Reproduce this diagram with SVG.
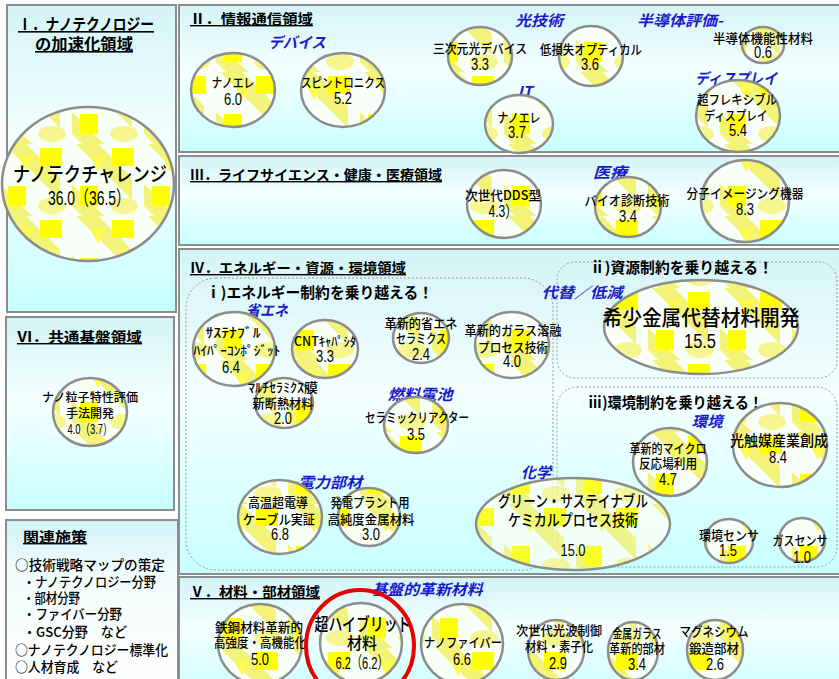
<svg xmlns="http://www.w3.org/2000/svg" width="839" height="679" viewBox="0 0 839 679">
<defs>
<linearGradient id="pg" x1="0" y1="0" x2="0" y2="1">
<stop offset="0" stop-color="#d4f4f6"/>
<stop offset="0.45" stop-color="#f4ffff"/>
<stop offset="1" stop-color="#c8ffff"/>
</linearGradient>
<linearGradient id="pg2" x1="0" y1="0" x2="0" y2="1">
<stop offset="0" stop-color="#cff3f6"/>
<stop offset="0.3" stop-color="#f2fcfc"/>
<stop offset="1" stop-color="#ffffff"/>
</linearGradient>
<pattern id="pat" patternUnits="userSpaceOnUse" width="72" height="72">
<rect width="72" height="72" fill="#f8fff6"/>
<path d="M4 0 L26 0 L60 34 L60 56Z" fill="#f3f37a"/>
<path d="M0 40 L0 62 L10 72 L32 72Z" fill="#f3f37a"/>
<rect x="40" y="4" width="22" height="18" fill="#ffff00"/>
<rect x="8" y="42" width="18" height="20" fill="#ffff00"/>
<ellipse cx="52" cy="62" rx="14" ry="8" fill="#f6f690"/>
<path d="M18 12 L34 12 L26 28Z" fill="#fbfb50"/>
</pattern>
<style>
.panel{fill:url(#pg);stroke:#8c8c8c;stroke-width:2}
.sub{fill:none;stroke:#9a9a9a;stroke-width:1;stroke-dasharray:2 2}
.b{fill:url(#pat);stroke:#8c8c8c;stroke-width:2.5}
text{font-family:"Noto Sans CJK JP","Noto Sans",sans-serif;fill:#000}
.j{font-size:13px;font-weight:500;text-anchor:middle}
.n{font-family:"Liberation Sans Narrow","Liberation Sans",Arial,"Noto Sans CJK JP",sans-serif;font-size:16px;text-anchor:middle}
.lb{font-size:15px;font-weight:bold;font-style:italic;fill:#1a1acc;text-anchor:middle}
.tt{font-size:14px;font-weight:bold;text-decoration:underline}
.st{font-size:15px;font-weight:bold}
.li{font-size:13.5px;font-weight:500}
</style>
</defs>

<g id="panels">
<rect id="panel-1" class="panel" x="7" y="5" width="169" height="307"/>
<rect id="panel-6" class="panel" x="6" y="317" width="168" height="193"/>
<rect id="panel-related" x="6" y="520" width="172" height="170" fill="url(#pg2)" stroke="#8c8c8c" stroke-width="2"/>
<rect id="panel-2" class="panel" x="179" y="5" width="670" height="147"/>
<rect id="panel-3" class="panel" x="179" y="156" width="670" height="89"/>
<rect id="panel-4" class="panel" x="179" y="249" width="670" height="325"/>
<rect id="panel-5" class="panel" x="179" y="577" width="670" height="120"/>
<rect id="box-i" class="sub" x="186" y="278" width="367" height="292" rx="30"/>
<rect id="box-ii" class="sub" x="557" y="262" width="280" height="116" rx="18"/>
<rect id="box-iii" class="sub" x="557" y="387" width="280" height="180" rx="20"/>
</g>

<g id="titles">
<text class="tt" x="86" y="30" style="font-size:16px" text-anchor="middle" textLength="136" lengthAdjust="spacingAndGlyphs">Ⅰ．ナノテクノロジー</text>
<text class="tt" x="84" y="50" style="font-size:16px" text-anchor="middle" textLength="98" lengthAdjust="spacingAndGlyphs">の加速化領域</text>
<text class="tt" x="190" y="24" textLength="123" lengthAdjust="spacingAndGlyphs">Ⅱ．情報通信領域</text>
<text class="tt" x="190" y="180" textLength="252" lengthAdjust="spacingAndGlyphs">Ⅲ．ライフサイエンス・健康・医療領域</text>
<text class="tt" x="190" y="273" textLength="216" lengthAdjust="spacingAndGlyphs">Ⅳ．エネルギー・資源・環境領域</text>
<text class="tt" x="190" y="597" textLength="130" lengthAdjust="spacingAndGlyphs">Ⅴ．材料・部材領域</text>
<text class="tt" x="17" y="342" textLength="125" lengthAdjust="spacingAndGlyphs">Ⅵ．共通基盤領域</text>
<text class="tt" x="23" y="542" textLength="64" lengthAdjust="spacingAndGlyphs">関連施策</text>
<text class="st" x="206" y="298" textLength="227" lengthAdjust="spacingAndGlyphs">ⅰ)エネルギー制約を乗り越える！</text>
<text class="st" x="590" y="273" textLength="183" lengthAdjust="spacingAndGlyphs">ⅱ)資源制約を乗り越える！</text>
<text class="st" x="588" y="408" textLength="175" lengthAdjust="spacingAndGlyphs">ⅲ)環境制約を乗り越える！</text>
</g>

<g id="category-labels">
<text class="lb" x="297" y="48" textLength="57" lengthAdjust="spacingAndGlyphs">デバイス</text>
<text class="lb" x="539" y="26" textLength="48" lengthAdjust="spacingAndGlyphs">光技術</text>
<text class="lb" x="680" y="26" textLength="86" lengthAdjust="spacingAndGlyphs">半導体評価-</text>
<text class="lb" x="525" y="97">IT</text>
<text class="lb" x="736" y="84" textLength="82" lengthAdjust="spacingAndGlyphs">ディスプレイ</text>
<text class="lb" x="610" y="178" textLength="34" lengthAdjust="spacingAndGlyphs">医療</text>
<text class="lb" x="267" y="316" textLength="42" lengthAdjust="spacingAndGlyphs">省エネ</text>
<text class="lb" x="420" y="400" textLength="65" lengthAdjust="spacingAndGlyphs">燃料電池</text>
<text class="lb" x="330" y="488" textLength="64" lengthAdjust="spacingAndGlyphs">電力部材</text>
<text class="lb" x="536" y="478" textLength="30" lengthAdjust="spacingAndGlyphs">化学</text>
<text class="lb" x="582" y="298" textLength="81" lengthAdjust="spacingAndGlyphs">代替／低減</text>
<text class="lb" x="707" y="427" textLength="31" lengthAdjust="spacingAndGlyphs">環境</text>
<text class="lb" x="427" y="595" textLength="111" lengthAdjust="spacingAndGlyphs">基盤的革新材料</text>
</g>

<g id="connectors"/>

<g id="nano-challenge">
<ellipse class="b" cx="88" cy="184" rx="86" ry="77"/>
<text class="j" x="90" y="182" style="font-size:20px" textLength="154" lengthAdjust="spacingAndGlyphs">ナノテクチャレンジ</text>
<text class="n" x="89" y="205" style="font-size:20px" textLength="82" lengthAdjust="spacingAndGlyphs">36.0（36.5）</text>
</g>

<g id="nano-particle">
<ellipse class="b" cx="90" cy="412" rx="37" ry="34"/>
<text class="j" x="90" y="402" style="font-size:12px" textLength="96" lengthAdjust="spacingAndGlyphs">ナノ粒子特性評価</text>
<text class="j" x="90" y="418" style="font-size:12px" textLength="48" lengthAdjust="spacingAndGlyphs">手法開発</text>
<text class="n" x="90" y="434" style="font-size:14px" textLength="45" lengthAdjust="spacingAndGlyphs">4.0（3.7）</text>
</g>

<g id="related-measures">
<text class="li" x="15" y="570" textLength="150" lengthAdjust="spacingAndGlyphs">○技術戦略マップの策定</text>
<text class="li" x="23" y="587" textLength="133" lengthAdjust="spacingAndGlyphs">・ナノテクノロジー分野</text>
<text class="li" x="23" y="603" textLength="57" lengthAdjust="spacingAndGlyphs">・部材分野</text>
<text class="li" x="23" y="619" textLength="99" lengthAdjust="spacingAndGlyphs">・ファイバー分野</text>
<text class="li" x="23" y="637" textLength="104" lengthAdjust="spacingAndGlyphs">・GSC分野　など</text>
<text class="li" x="15" y="655" textLength="153" lengthAdjust="spacingAndGlyphs">○ナノテクノロジー標準化</text>
<text class="li" x="15" y="672" textLength="103" lengthAdjust="spacingAndGlyphs">○人材育成　など</text>
</g>

<g id="nanoele-device">
<ellipse class="b" cx="233" cy="90" rx="42" ry="37"/>
<text class="j" x="233" y="87" textLength="43" lengthAdjust="spacingAndGlyphs">ナノエレ</text>
<text class="n" x="233" y="105" textLength="18" lengthAdjust="spacingAndGlyphs">6.0</text>
</g>
<g id="spintronics">
<ellipse class="b" cx="343" cy="90" rx="42" ry="37"/>
<text class="j" x="343" y="87" textLength="84" lengthAdjust="spacingAndGlyphs">スピントロニクス</text>
<text class="n" x="343" y="104" textLength="18" lengthAdjust="spacingAndGlyphs">5.2</text>
</g>
<g id="3d-photonic-device">
<ellipse class="b" cx="480" cy="56" rx="32" ry="29"/>
<text class="j" x="480" y="53" textLength="94" lengthAdjust="spacingAndGlyphs">三次元光デバイス</text>
<text class="n" x="480" y="70" textLength="18" lengthAdjust="spacingAndGlyphs">3.3</text>
</g>
<g id="low-loss-optical">
<ellipse class="b" cx="591" cy="56" rx="32" ry="30"/>
<text class="j" x="591" y="54" textLength="102" lengthAdjust="spacingAndGlyphs">低損失オプティカル</text>
<text class="n" x="590" y="70" textLength="18" lengthAdjust="spacingAndGlyphs">3.6</text>
</g>
<g id="semiconductor-functional">
<ellipse class="b" cx="763" cy="45" rx="21" ry="18"/>
<text class="j" x="763" y="43" textLength="100" lengthAdjust="spacingAndGlyphs">半導体機能性材料</text>
<text class="n" x="763" y="58" textLength="18" lengthAdjust="spacingAndGlyphs">0.6</text>
</g>
<g id="nanoele-it">
<ellipse class="b" cx="519" cy="124" rx="34" ry="29"/>
<text class="j" x="519" y="122" textLength="43" lengthAdjust="spacingAndGlyphs">ナノエレ</text>
<text class="n" x="517" y="138" textLength="18" lengthAdjust="spacingAndGlyphs">3.7</text>
</g>
<g id="flexible-display">
<ellipse class="b" cx="738" cy="116" rx="42" ry="36"/>
<text class="j" x="737" y="104" textLength="80" lengthAdjust="spacingAndGlyphs">超フレキシブル</text>
<text class="j" x="736" y="120" textLength="63" lengthAdjust="spacingAndGlyphs">ディスプレイ</text>
<text class="n" x="738" y="136" textLength="18" lengthAdjust="spacingAndGlyphs">5.4</text>
</g>

<g id="next-gen-dds">
<ellipse class="b" cx="504" cy="204" rx="37" ry="34"/>
<text class="j" x="503" y="200" textLength="76" lengthAdjust="spacingAndGlyphs">次世代DDS型</text>
<text class="n" x="503" y="217" textLength="29" lengthAdjust="spacingAndGlyphs">4.3）</text>
</g>
<g id="bio-diagnosis">
<ellipse class="b" cx="628" cy="207" rx="33" ry="30"/>
<text class="j" x="627" y="205" textLength="85" lengthAdjust="spacingAndGlyphs">バイオ診断技術</text>
<text class="n" x="628" y="222" textLength="18" lengthAdjust="spacingAndGlyphs">3.4</text>
</g>
<g id="molecular-imaging">
<ellipse class="b" cx="745" cy="201" rx="44" ry="41"/>
<text class="j" x="745" y="198" textLength="117" lengthAdjust="spacingAndGlyphs">分子イメージング機器</text>
<text class="n" x="745" y="215" textLength="18" lengthAdjust="spacingAndGlyphs">8.3</text>
</g>

<g id="sustainable-hyper-composite">
<ellipse class="b" cx="234" cy="349" rx="41" ry="37"/>
<text class="j" x="233" y="337" textLength="55" lengthAdjust="spacingAndGlyphs">ｻｽﾃﾅﾌﾞﾙ</text>
<text class="j" x="237" y="355" textLength="87" lengthAdjust="spacingAndGlyphs">ﾊｲﾊﾟｰｺﾝﾎﾟｼﾞｯﾄ</text>
<text class="n" x="231" y="373" textLength="18" lengthAdjust="spacingAndGlyphs">6.4</text>
</g>
<g id="cnt-capacitor">
<ellipse class="b" cx="325" cy="349" rx="33" ry="29"/>
<text class="j" x="325" y="346" textLength="62" lengthAdjust="spacingAndGlyphs">CNTｷｬﾊﾟｼﾀ</text>
<text class="n" x="325" y="362" textLength="18" lengthAdjust="spacingAndGlyphs">3.3</text>
</g>
<g id="energy-saving-ceramics">
<ellipse class="b" cx="421" cy="338" rx="28" ry="25"/>
<text class="j" x="421" y="328" textLength="73" lengthAdjust="spacingAndGlyphs">革新的省エネ</text>
<text class="j" x="421" y="343" textLength="50" lengthAdjust="spacingAndGlyphs">セラミクス</text>
<text class="n" x="421" y="360" textLength="18" lengthAdjust="spacingAndGlyphs">2.4</text>
</g>
<g id="glass-melting">
<ellipse class="b" cx="512" cy="345" rx="37" ry="33"/>
<text class="j" x="513" y="335" textLength="97" lengthAdjust="spacingAndGlyphs">革新的ガラス溶融</text>
<text class="j" x="513" y="352" textLength="70" lengthAdjust="spacingAndGlyphs">プロセス技術</text>
<text class="n" x="512" y="367" textLength="18" lengthAdjust="spacingAndGlyphs">4.0</text>
</g>
<g id="multi-ceramic-insulation">
<ellipse class="b" cx="284" cy="403" rx="29" ry="25"/>
<text class="j" x="283" y="392" textLength="70" lengthAdjust="spacingAndGlyphs">ﾏﾙﾁｾﾗﾐｸｽ膜</text>
<text class="j" x="283" y="408" textLength="61" lengthAdjust="spacingAndGlyphs">新断熱材料</text>
<text class="n" x="283" y="424" textLength="18" lengthAdjust="spacingAndGlyphs">2.0</text>
</g>
<g id="ceramic-reactor">
<ellipse class="b" cx="416" cy="425" rx="32" ry="28"/>
<text class="j" x="417" y="422" textLength="104" lengthAdjust="spacingAndGlyphs">セラミックリアクター</text>
<text class="n" x="416" y="440" textLength="18" lengthAdjust="spacingAndGlyphs">3.5</text>
</g>
<g id="hts-cable">
<ellipse class="b" cx="280" cy="517" rx="42" ry="37"/>
<text class="j" x="278" y="507" textLength="60" lengthAdjust="spacingAndGlyphs">高温超電導</text>
<text class="j" x="279" y="524" textLength="72" lengthAdjust="spacingAndGlyphs">ケーブル実証</text>
<text class="n" x="280" y="540" textLength="18" lengthAdjust="spacingAndGlyphs">6.8</text>
</g>
<g id="high-purity-metal">
<ellipse class="b" cx="369" cy="517" rx="31" ry="29"/>
<text class="j" x="370" y="507" textLength="79" lengthAdjust="spacingAndGlyphs">発電プラント用</text>
<text class="j" x="371" y="524" textLength="87" lengthAdjust="spacingAndGlyphs">高純度金属材料</text>
<text class="n" x="371" y="540" textLength="18" lengthAdjust="spacingAndGlyphs">3.0</text>
</g>
<g id="green-sustainable-chemistry">
<ellipse class="b" cx="573" cy="524" rx="97" ry="46" fill-opacity="0.85"/>
<text class="j" x="573" y="507" style="font-size:16px" textLength="150" lengthAdjust="spacingAndGlyphs">グリーン・サステイナブル</text>
<text class="j" x="573" y="526" style="font-size:16px" textLength="130" lengthAdjust="spacingAndGlyphs">ケミカルプロセス技術</text>
<text class="n" x="573" y="556" style="font-size:17px" textLength="25" lengthAdjust="spacingAndGlyphs">15.0</text>
</g>
<g id="rare-metal-substitute">
<ellipse class="b" cx="701" cy="327" rx="97" ry="47"/>
<text class="j" x="701" y="325" style="font-size:21px" textLength="197" lengthAdjust="spacingAndGlyphs">希少金属代替材料開発</text>
<text class="n" x="700" y="348" style="font-size:20px" textLength="32" lengthAdjust="spacingAndGlyphs">15.5</text>
</g>
<g id="micro-reaction">
<ellipse class="b" cx="670" cy="462" rx="37" ry="34"/>
<text class="j" x="668" y="453" textLength="77" lengthAdjust="spacingAndGlyphs">革新的マイクロ</text>
<text class="j" x="668" y="468" textLength="58" lengthAdjust="spacingAndGlyphs">反応場利用</text>
<text class="n" x="668" y="485" textLength="18" lengthAdjust="spacingAndGlyphs">4.7</text>
</g>
<g id="photocatalyst">
<ellipse class="b" cx="780" cy="445" rx="47" ry="42"/>
<text class="j" x="779" y="446" style="font-size:15px" textLength="98" lengthAdjust="spacingAndGlyphs">光触媒産業創成</text>
<text class="n" x="778" y="463" textLength="18" lengthAdjust="spacingAndGlyphs">8.4</text>
</g>
<g id="environment-sensor">
<ellipse class="b" cx="729" cy="541" rx="24" ry="22"/>
<text class="j" x="729" y="540" textLength="60" lengthAdjust="spacingAndGlyphs">環境センサ</text>
<text class="n" x="728" y="556" textLength="18" lengthAdjust="spacingAndGlyphs">1.5</text>
</g>
<g id="gas-sensor">
<ellipse class="b" cx="802" cy="540" rx="23" ry="22"/>
<text class="j" x="800" y="545" textLength="55" lengthAdjust="spacingAndGlyphs">ガスセンサ</text>
<text class="n" x="802" y="563" textLength="18" lengthAdjust="spacingAndGlyphs">1.0</text>
</g>

<g id="steel">
<ellipse class="b" cx="260" cy="644" rx="42" ry="40"/>
<text class="j" x="259" y="632" textLength="88" lengthAdjust="spacingAndGlyphs">鉄鋼材料革新的</text>
<text class="j" x="260" y="647" textLength="92" lengthAdjust="spacingAndGlyphs">高強度・高機能化</text>
<text class="n" x="260" y="665" textLength="18" lengthAdjust="spacingAndGlyphs">5.0</text>
</g>
<g id="super-hybrid">
<ellipse class="b" cx="361" cy="643" rx="41" ry="40"/>
<text class="j" x="363" y="631" style="font-size:18px" textLength="97" lengthAdjust="spacingAndGlyphs">超ハイブリッド</text>
<text class="j" x="362" y="649" style="font-size:16px" textLength="30" lengthAdjust="spacingAndGlyphs">材料</text>
<text class="n" x="362" y="669" style="font-size:17px" textLength="53" lengthAdjust="spacingAndGlyphs">6.2（6.2）</text>
<ellipse cx="360" cy="646" rx="54" ry="56" fill="none" stroke="#e60000" stroke-width="4"/>
</g>
<g id="nanofiber">
<ellipse class="b" cx="462" cy="644" rx="41" ry="40"/>
<text class="j" x="463" y="647" textLength="78" lengthAdjust="spacingAndGlyphs">ナノファイバー</text>
<text class="n" x="462" y="665" textLength="18" lengthAdjust="spacingAndGlyphs">6.6</text>
</g>
<g id="light-wave-control">
<ellipse class="b" cx="556" cy="650" rx="28" ry="30"/>
<text class="j" x="559" y="635" textLength="86" lengthAdjust="spacingAndGlyphs">次世代光波制御</text>
<text class="j" x="559" y="651" textLength="68" lengthAdjust="spacingAndGlyphs">材料・素子化</text>
<text class="n" x="558" y="669" textLength="18" lengthAdjust="spacingAndGlyphs">2.9</text>
</g>
<g id="metallic-glass">
<ellipse class="b" cx="633" cy="651" rx="25" ry="29"/>
<text class="j" x="637" y="638" textLength="49" lengthAdjust="spacingAndGlyphs">金属ガラス</text>
<text class="j" x="637" y="653" textLength="56" lengthAdjust="spacingAndGlyphs">革新的部材</text>
<text class="n" x="637" y="670" textLength="18" lengthAdjust="spacingAndGlyphs">3.4</text>
</g>
<g id="magnesium">
<ellipse class="b" cx="715" cy="650" rx="28" ry="30"/>
<text class="j" x="714" y="636" textLength="69" lengthAdjust="spacingAndGlyphs">マグネシウム</text>
<text class="j" x="714" y="653" textLength="50" lengthAdjust="spacingAndGlyphs">鍛造部材</text>
<text class="n" x="715" y="670" textLength="18" lengthAdjust="spacingAndGlyphs">2.6</text>
</g>
</svg>
